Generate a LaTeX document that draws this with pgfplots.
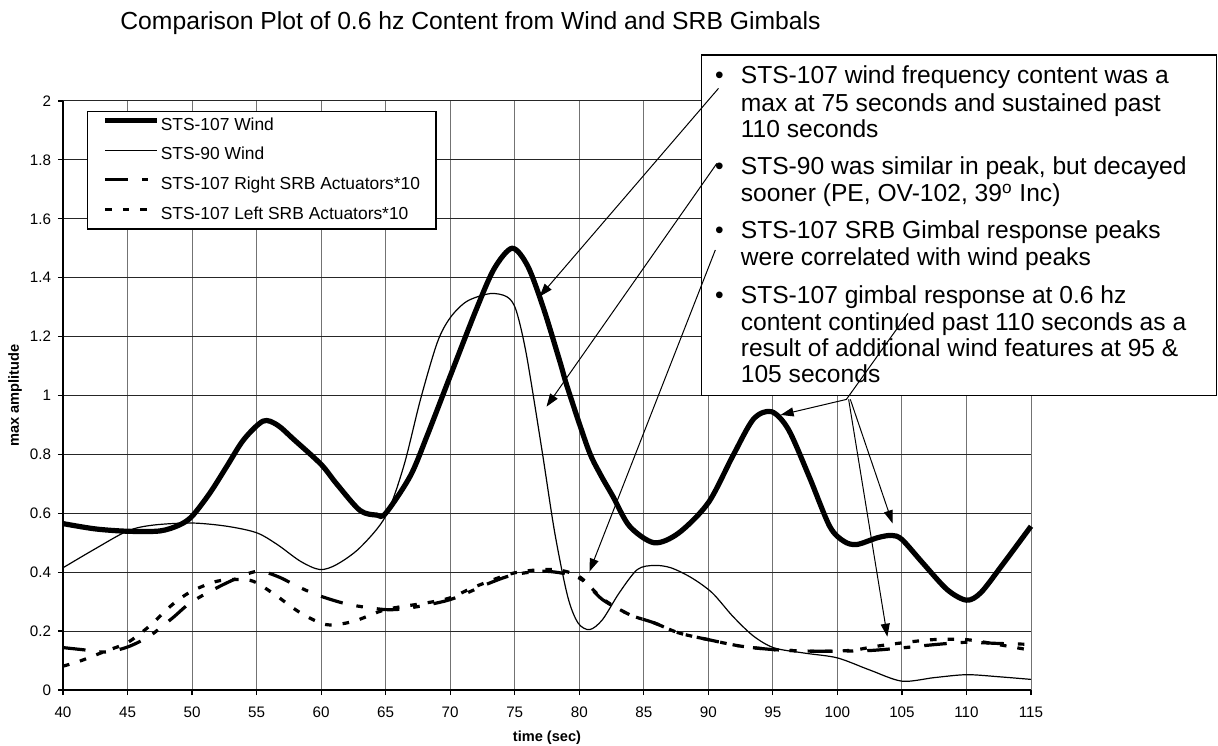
\documentclass[border=0pt]{standalone}
\usepackage{fontspec}
\setmainfont{Liberation Sans}
\usepackage{pgfplots}
\pgfplotsset{compat=1.18}
\usetikzlibrary{arrows.meta}

\pgfplotstableread{
t v
40 0.565
42.5 0.547
45 0.539
47.5 0.540
49 0.56
50 0.59
51.4 0.67
52.7 0.76
54 0.85
55.5 0.913
56.6 0.90
57.9 0.85
60 0.766
61.2 0.70
63 0.61
64.3 0.594
65 0.60
66.9 0.726
68.2 0.862
70 1.066
72 1.29
73.4 1.43
74.8 1.50
76 1.44
77.2 1.30
78.5 1.115
79.1 1.025
80.7 0.817
81.6 0.735
82.6 0.658
83.9 0.556
85.8 0.50
87.7 0.533
90 0.636
91.9 0.795
93.5 0.92
94.9 0.945
96.2 0.885
97.8 0.726
99.4 0.556
100.5 0.505
101.5 0.494
103.1 0.517
104.2 0.525
105 0.511
106.6 0.432
108.5 0.341
110 0.305
111.1 0.33
112.7 0.42
115 0.556
}\stsonezeroseven

\pgfplotstableread{
t v
40 0.415
42.4 0.477
45 0.54
47 0.56
50 0.567
52.7 0.556
55 0.534
56.6 0.494
58.4 0.437
59.9 0.409
61.2 0.426
63 0.483
65 0.59
66.4 0.76
67.7 0.987
69 1.18
70 1.264
71.3 1.32
73.1 1.346
74.4 1.335
75.1 1.29
75.9 1.14
77.1 0.817
78.1 0.534
79.1 0.318
79.9 0.228
80.8 0.205
81.8 0.239
83.1 0.33
84.5 0.409
85.8 0.423
87.1 0.415
88.7 0.381
90.3 0.33
91.9 0.25
93.5 0.183
95.1 0.143
97.5 0.125
100 0.109
102.5 0.068
105 0.03
107.5 0.042
110 0.052
112.5 0.045
115 0.036
}\stsninety

\pgfplotstableread{
t v
40 0.144
41.5 0.137
43.3 0.129
45 0.146
46.7 0.183
48.5 0.245
50 0.300
52.7 0.364
55 0.403
56.6 0.386
58.4 0.347
60 0.318
62.2 0.29
65 0.273
66.9 0.279
70 0.307
73.1 0.364
75 0.392
77.5 0.403
80 0.38
81.8 0.307
83.9 0.256
85.8 0.228
87.7 0.194
90 0.171
92.5 0.149
95.1 0.137
97.8 0.132
100 0.132
102.5 0.134
105 0.143
107.5 0.154
110 0.162
112.5 0.158
115 0.155
}\rightsrb

\pgfplotstableread{
t v
40 0.081
41.3 0.098
43.3 0.132
45 0.161
46.7 0.217
48.5 0.291
50 0.336
52 0.37
54 0.375
55 0.364
56.6 0.318
58.4 0.262
60.4 0.222
62.5 0.233
65 0.273
68.2 0.296
70 0.313
72 0.352
75 0.398
78 0.409
80 0.385
81.8 0.31
83.9 0.256
85.8 0.228
87.7 0.194
90 0.171
92.5 0.149
95.1 0.137
97.8 0.132
100 0.132
101.5 0.137
103.1 0.149
105 0.16
107.4 0.171
110 0.171
112.5 0.154
115 0.135
}\leftsrb

\begin{document}
\begin{tikzpicture}
\path[use as bounding box] (-31.5bp,-28bp) rectangle (577.5bp,345bp);
\begin{axis}[
  at={(0,0)}, anchor=south west,
  scale only axis, width=484bp, height=294.5bp,
  xmin=40, xmax=115, ymin=0, ymax=2,
  xtick={40,45,...,115},
  ytick={0,0.2,0.4,0.6,0.8,1,1.2,1.4,1.6,1.8,2},
  axis x line*=bottom, axis y line*=left,
  axis line style={black, line width=0.6bp},
  tick align=outside, major tick length=2.5bp,
  tick style={black, line width=0.6bp},
  grid=major,
  x grid style={black!55, line width=0.5bp},
  y grid style={black!85, line width=0.5bp},
  clip=false,
  tick label style={font=\fontsize{7.6bp}{9bp}\selectfont},
  xticklabel style={yshift=-2.5bp},
  /pgf/number format/assume math mode=true,
  legend style={at={(axis description cs:0,1)}, anchor=north west,
    xshift=12bp, yshift=-5bp, draw=black, line width=0.6bp,
    fill=white,
    font=\fontsize{8.7bp}{10bp}\selectfont,
    inner xsep=7.5bp, inner ysep=2.6bp, row sep=5.7bp,
    nodes={inner sep=0.5bp, text height=6.3bp, text depth=1.8bp},
    cells={anchor=west},
    /tikz/every even column/.append style={column sep=0bp}},
  legend image code/.code={\draw[#1] (0bp,2.6bp) -- (26bp,2.6bp);},
]
\addplot[black, line width=2.6bp, smooth] table[x=t, y=v] {\stsonezeroseven};
\addlegendentry{STS-107 Wind}
\addplot[black, line width=0.6bp, smooth] table[x=t, y=v] {\stsninety};
\addlegendentry{STS-90 Wind}
\addplot[black, line width=1.6bp, smooth, dash pattern=on 11.3bp off 7bp on 3.3bp off 7bp] table[x=t, y=v] {\rightsrb};
\addlegendentry{STS-107 Right SRB Actuators*10}
\addplot[black, line width=1.6bp, smooth, dash pattern=on 3.3bp off 5.5bp] table[x=t, y=v] {\leftsrb};
\addlegendentry{STS-107 Left SRB Actuators*10}

% callout box
\draw[fill=white, line width=0.6bp] (axis cs:89.45,1.0) rectangle (axis cs:129.37,2.156);
\begin{scope}[every node/.style={anchor=base west, inner sep=0pt, font=\fontsize{12.3bp}{14bp}\selectfont}]
\node at (axis cs:90.5,2.060) {•};
\node at (axis cs:92.49,2.060) {STS-107 wind frequency content was a};
\node at (axis cs:92.49,1.966) {max at 75 seconds and sustained past};
\node at (axis cs:92.49,1.877) {110 seconds};
\node at (axis cs:90.5,1.749) {•};
\node at (axis cs:92.49,1.749) {STS-90 was similar in peak, but decayed};
\node at (axis cs:92.49,1.658) {sooner (PE, OV-102, 39\textsuperscript{o} Inc)};
\node at (axis cs:90.5,1.534) {•};
\node at (axis cs:92.49,1.534) {STS-107 SRB Gimbal response peaks};
\node at (axis cs:92.49,1.443) {were correlated with wind peaks};
\node at (axis cs:90.5,1.313) {•};
\node at (axis cs:92.49,1.313) {STS-107 gimbal response at 0.6 hz};
\node at (axis cs:92.49,1.222) {content continued past 110 seconds as a};
\node at (axis cs:92.49,1.132) {result of additional wind features at 95 \&};
\node at (axis cs:92.49,1.043) {105 seconds};
\end{scope}

% arrows
\begin{scope}[line width=0.5bp, -{Triangle[length=6.5bp,width=4.5bp]}]
\draw (axis cs:90.79,2.043) -- (axis cs:76.93,1.336);
\draw (axis cs:90.66,1.788) -- (axis cs:77.46,0.962);
\draw (axis cs:90.54,1.494) -- (axis cs:80.79,0.402);
\draw (axis cs:100.73,0.987) -- (axis cs:95.6,0.934);
\draw (axis cs:101.0,0.987) -- (axis cs:104.27,0.566);
\draw (axis cs:100.87,0.987) -- (axis cs:103.87,0.181);
\end{scope}
\draw[line width=0.5bp] (axis cs:105.47,1.279) -- (axis cs:100.7,0.987);

% title and axis labels
\node[anchor=base west, inner sep=0pt, font=\fontsize{12.35bp}{14bp}\selectfont]
  at ([xshift=28.5bp, yshift=330.35bp]rel axis cs:0,0)
  {Comparison Plot of 0.6 hz Content from Wind and SRB Gimbals};
\node[anchor=base, inner sep=0pt, font=\bfseries\fontsize{7.3bp}{9bp}\selectfont]
  at ([yshift=-25.5bp]rel axis cs:0.5,0) {time (sec)};
\node[anchor=center, rotate=90, inner sep=0pt, font=\bfseries\fontsize{7.3bp}{9bp}\selectfont]
  at ([xshift=-24bp]rel axis cs:0,0.5) {max amplitude};
\end{axis}
\end{tikzpicture}
\end{document}
